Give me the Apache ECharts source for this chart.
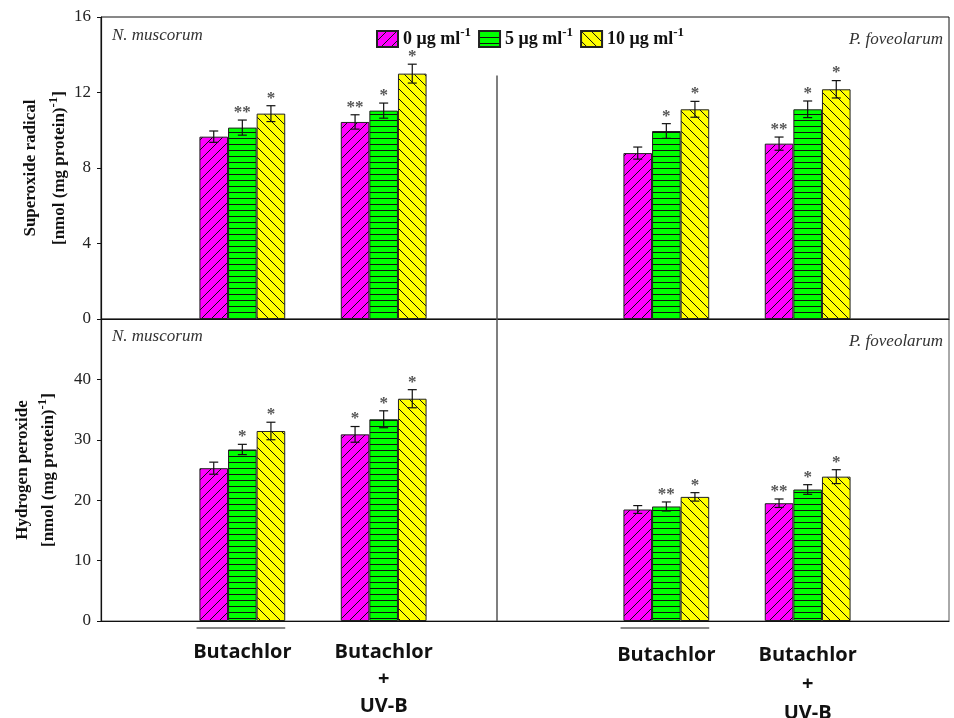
<!DOCTYPE html>
<html>
<head>
<meta charset="utf-8">
<script src="https://cdn.jsdelivr.net/npm/echarts@6/dist/echarts.min.js"></script>
<style>
  html, body { margin: 0; padding: 0; background: #fff; }
  #chart { width: 954px; height: 718px; }
</style>
</head>
<body>
<div id="chart"></div>
<script>
// categories on the x axis (index 3 is the species divider)
const categories = ['', 'Butachlor', 'Butachlor\n+\nUV-B', '', 'Butachlor', 'Butachlor\n+\nUV-B', ''];
const doses = ['0', '5', '10'];

// superoxide radical, nmol (mg protein)-1
const sox0 = [null, 9.66, 10.44, null, 8.79, 9.29, null];
const sox5 = [null, 10.14, 11.04, null, 9.96, 11.11, null];
const sox10 = [null, 10.88, 13.0, null, 11.11, 12.17, null];
const soxErr0 = [0, 0.3, 0.38, 0, 0.32, 0.35, 0];
const soxErr5 = [0, 0.4, 0.4, 0, 0.39, 0.44, 0];
const soxErr10 = [0, 0.42, 0.5, 0, 0.42, 0.46, 0];
const soxSig0 = ['', '', '**', '', '', '**', ''];
const soxSig5 = ['', '**', '*', '', '*', '*', ''];
const soxSig10 = ['', '*', '*', '', '*', '*', ''];

// hydrogen peroxide, nmol (mg protein)-1
const hp0 = [null, 25.3, 30.9, null, 18.46, 19.5, null];
const hp5 = [null, 28.4, 33.4, null, 18.96, 21.77, null];
const hp10 = [null, 31.46, 36.8, null, 20.55, 23.9, null];
const hpErr0 = [0, 1.0, 1.3, 0, 0.65, 0.7, 0];
const hpErr5 = [0, 0.85, 1.4, 0, 0.75, 0.8, 0];
const hpErr10 = [0, 1.45, 1.5, 0, 0.7, 1.15, 0];
const hpSig0 = ['', '', '*', '', '', '**', ''];
const hpSig5 = ['', '*', '*', '', '**', '*', ''];
const hpSig10 = ['', '*', '*', '', '*', '*', ''];

const BAR_W = 28.6;
const SERIF = '"Liberation Serif", "DejaVu Serif", serif';
const SANS = '"Liberation Sans Narrow", "Open Sans", sans-serif';

// hatch fills
function makePattern(fill, kind) {
  const size = kind === 'h' ? 6 : 10;
  const cv = document.createElement('canvas');
  cv.width = size; cv.height = size;
  const ctx = cv.getContext('2d');
  ctx.fillStyle = fill;
  ctx.fillRect(0, 0, size, size);
  ctx.strokeStyle = '#111';
  ctx.lineWidth = 1;
  ctx.beginPath();
  if (kind === 'h') {
    ctx.moveTo(0, 0.5); ctx.lineTo(size, 0.5);
  } else if (kind === 'f') {
    ctx.moveTo(-1, size + 1); ctx.lineTo(size + 1, -1);
    ctx.moveTo(-1, 1); ctx.lineTo(1, -1);
    ctx.moveTo(size - 1, size + 1); ctx.lineTo(size + 1, size - 1);
  } else {
    ctx.moveTo(-1, -1); ctx.lineTo(size + 1, size + 1);
    ctx.moveTo(size - 1, -1); ctx.lineTo(size + 1, 1);
    ctx.moveTo(-1, size - 1); ctx.lineTo(1, size + 1);
  }
  ctx.stroke();
  return { image: cv, repeat: 'repeat' };
}
const fills = [makePattern('#ff00ff', 'f'), makePattern('#00ff00', 'h'), makePattern('#ffff00', 'b')];

function barSeries(k, vals, grid) {
  return {
    name: doses[k] + ' μg ml',
    type: 'bar',
    xAxisIndex: grid, yAxisIndex: grid,
    data: vals,
    barWidth: BAR_W,
    barGap: '0%',
    itemStyle: { color: fills[k], borderColor: '#222', borderWidth: 1 },
    z: 2
  };
}

function errSeries(k, vals, errs, sigs, grid) {
  return {
    type: 'custom',
    xAxisIndex: grid, yAxisIndex: grid,
    data: vals.map((v, i) => [i, v == null ? 0 : v]),
    z: 4,
    silent: true,
    renderItem: function (params, api) {
      const i = params.dataIndex;
      if (vals[i] == null) return;
      const x = api.coord([i, vals[i]])[0] + (k - 1) * BAR_W;
      const yt = api.coord([i, vals[i] + errs[i]])[1];
      const yb = api.coord([i, vals[i] - errs[i]])[1];
      const st = { stroke: '#111', lineWidth: 1.2 };
      const kids = [
        { type: 'line', shape: { x1: x, y1: yt, x2: x, y2: yb }, style: st },
        { type: 'line', shape: { x1: x - 4.5, y1: yt, x2: x + 4.5, y2: yt }, style: st },
        { type: 'line', shape: { x1: x - 4.5, y1: yb, x2: x + 4.5, y2: yb }, style: st }
      ];
      if (sigs[i]) {
        kids.push({
          type: 'text',
          style: { text: sigs[i], x: x, y: yt + 1, align: 'center', verticalAlign: 'bottom',
            font: 'bold 17px ' + SERIF, fill: '#555' }
        });
      }
      return { type: 'group', children: kids };
    }
  };
}

const tickLabel = { color: '#222', fontFamily: SERIF, fontSize: 17, margin: 10 };
function nameRich(lh) {
  return {
    a: { fontFamily: SERIF, fontWeight: 'bold', fontSize: 17, color: '#111', lineHeight: lh },
    s: { fontFamily: SERIF, fontWeight: 'bold', fontSize: 13, color: '#111', padding: [0, 0, 12, 0] }
  };
}

const chart = echarts.init(document.getElementById('chart'));
const option = {
  backgroundColor: '#fff',
  animation: false,
  legend: {
    data: doses.map(d => d + ' μg ml'),
    left: 371, top: 21,
    itemWidth: 21, itemHeight: 16, itemGap: 7,
    icon: 'rect',
    formatter: name => '{t|' + name + '}{s|-1}',
    textStyle: {
      rich: {
        t: { fontFamily: SERIF, fontWeight: 'bold', fontSize: 18, color: '#111' },
        s: { fontFamily: SERIF, fontWeight: 'bold', fontSize: 13, color: '#111', padding: [0, 0, 13, 0] }
      }
    }
  },
  grid: [
    { left: 101, right: 5, top: 17, height: 302, show: true, borderColor: '#111', borderWidth: 1,
      outerBoundsMode: 'none' },
    { left: 101, right: 5, top: 319, height: 302, show: true, borderColor: '#555', borderWidth: 1,
      outerBoundsMode: 'none' }
  ],
  xAxis: [
    { type: 'category', gridIndex: 0, data: categories, boundaryGap: false,
      axisLine: { lineStyle: { color: '#111', width: 1.2 } },
      axisTick: { show: false }, axisLabel: { show: false } },
    { type: 'category', gridIndex: 1, data: categories, boundaryGap: false,
      axisLine: { lineStyle: { color: '#111', width: 1.2 } },
      axisTick: { show: false },
      axisLabel: {
        interval: 0, margin: 18,
        formatter: (v, i) => i >= 4
          ? v.split('\n').map(s => '{r|' + s + '}').join('\n')
          : v.split('\n').map(s => '{l|' + s + '}').join('\n'),
        rich: {
          l: { fontFamily: SANS, fontWeight: 'bold', fontSize: 20, color: '#111', lineHeight: 27 },
          r: { fontFamily: SANS, fontWeight: 'bold', fontSize: 20, color: '#111', lineHeight: 29, padding: [4, 0, 0, 0] }
        }
      } }
  ],
  yAxis: [
    { type: 'value', gridIndex: 0, min: 0, max: 16, interval: 4,
      splitLine: { show: false },
      axisLine: { show: true, lineStyle: { color: '#111', width: 1.2 } },
      axisTick: { show: true, length: 4, lineStyle: { color: '#111' } },
      axisLabel: tickLabel,
      name: '{a|Superoxide radical}\n{a|[nmol (mg protein)}{s|-1}{a|]}',
      nameLocation: 'middle', nameRotate: 90, nameGap: 27, nameMoveOverlap: false,
      nameTextStyle: { rich: nameRich(29) } },
    { type: 'value', gridIndex: 1, min: 0, max: 50, interval: 10,
      splitLine: { show: false },
      axisLine: { show: true, lineStyle: { color: '#111', width: 1.2 } },
      axisTick: { show: true, length: 4, lineStyle: { color: '#111' } },
      axisLabel: Object.assign({}, tickLabel, { formatter: v => v === 50 ? '' : String(v) }),
      name: '{a|Hydrogen peroxide}\n{a|[nmol (mg protein)}{s|-1}{a|]}',
      nameLocation: 'middle', nameRotate: 90, nameGap: 39, nameMoveOverlap: false,
      nameTextStyle: { rich: nameRich(26) } }
  ],
  series: [
    Object.assign(barSeries(0, sox0, 0), {
      markLine: { silent: true, symbol: 'none', label: { show: false },
        lineStyle: { color: '#555', width: 1.5, type: 'solid' },
        data: [[{ coord: [3, 0] }, { coord: [3, 12.9] }]] }
    }),
    barSeries(1, sox5, 0),
    barSeries(2, sox10, 0),
    Object.assign(barSeries(0, hp0, 1), {
      markLine: { silent: true, symbol: 'none', label: { show: false },
        lineStyle: { color: '#555', width: 1.5, type: 'solid' },
        data: [[{ coord: [3, 0] }, { coord: [3, 50] }]] }
    }),
    barSeries(1, hp5, 1),
    barSeries(2, hp10, 1),
    errSeries(0, sox0, soxErr0, soxSig0, 0),
    errSeries(1, sox5, soxErr5, soxSig5, 0),
    errSeries(2, sox10, soxErr10, soxSig10, 0),
    errSeries(0, hp0, hpErr0, hpSig0, 1),
    errSeries(1, hp5, hpErr5, hpSig5, 1),
    errSeries(2, hp10, hpErr10, hpSig10, 1)
  ]
};
chart.setOption(option);

// species labels and the short rules under the "Butachlor" groups
const italic = { font: 'italic 17px ' + SERIF, fill: '#333' };
const yBase = chart.convertToPixel({ yAxisIndex: 1 }, 0);
const underline = idx => {
  const cx = chart.convertToPixel({ xAxisIndex: 1 }, idx);
  return { type: 'line', shape: { x1: cx - BAR_W * 1.6, y1: yBase + 7, x2: cx + BAR_W * 1.5, y2: yBase + 7 },
    style: { stroke: '#111', lineWidth: 1 } };
};
chart.setOption({
  graphic: [
    { type: 'text', left: 112, top: 27, style: Object.assign({ text: 'N. muscorum' }, italic) },
    { type: 'text', left: 112, top: 328, style: Object.assign({ text: 'N. muscorum' }, italic) },
    { type: 'text', right: 11, top: 31, style: Object.assign({ text: 'P. foveolarum' }, italic) },
    { type: 'text', right: 11, top: 333, style: Object.assign({ text: 'P. foveolarum' }, italic) },
    underline(1),
    underline(4)
  ]
});
</script>
</body>
</html>
